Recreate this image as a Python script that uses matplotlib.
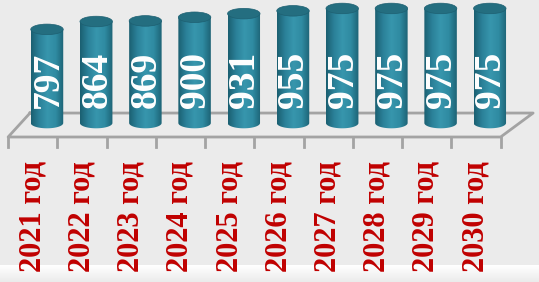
import numpy as np
import matplotlib.pyplot as plt
from matplotlib.patches import Ellipse, PathPatch
from matplotlib.path import Path
from matplotlib.colors import LinearSegmentedColormap

years = ['2021 год', '2022 год', '2023 год', '2024 год', '2025 год',
         '2026 год', '2027 год', '2028 год', '2029 год', '2030 год']
values = [797, 864, 869, 900, 931, 955, 975, 975, 975, 975]

bg = '#ebebeb'
fig = plt.figure(figsize=(5.39, 2.82), dpi=100, facecolor=bg)
ax = fig.add_axes([0, 0, 1, 1])
ax.set_facecolor(bg)
ax.axis('off')

# floor (perspective parallelogram) + ticks
floor_c = '#a3a3a3'
fx0, fx1 = -0.79, 9.22     # front left / right
bx0, bx1 = -0.345, 9.88    # back left / right
yf, yb = -119, 85
ax.plot([bx0, bx1, fx1, fx0, bx0], [yb, yb, yf, yf, yb], color=floor_c, lw=2, zorder=1)
for t in np.linspace(fx0, fx1, len(values) + 1):
    ax.plot([t, t], [yf, -204], color=floor_c, lw=2, zorder=1)

# cylinders: gradient body clipped to rect + bottom half ellipse, flat top ellipse
cmap = LinearSegmentedColormap.from_list('cyl', ['#1b5f70', '#2b8199', '#3796ad', '#2f8ba2', '#1d6375'])
grad = np.linspace(0, 1, 256).reshape(1, -1)
w = 0.66
eh = 90
for i, v in enumerate(values):
    x0, x1 = i - w / 2, i + w / 2
    t = np.linspace(np.pi, 2 * np.pi, 40)
    bot = np.column_stack([i + w / 2 * np.cos(t), eh / 2 * np.sin(t)])
    verts = np.vstack([[[x0, v]], bot, [[x1, v]], [[x0, v]]])
    clip = PathPatch(Path(verts), fc='none', ec='none')
    ax.add_patch(clip)
    im = ax.imshow(grad, cmap=cmap, aspect='auto', extent=[x0, x1, -eh, v], zorder=2)
    im.set_clip_path(clip)
    ax.add_patch(Ellipse((i, v), w, eh, fc='#246e80', ec='#1e6072', lw=0.5, zorder=3))
    ax.text(i + 0.02, 370, str(v), rotation=90, ha='center', va='center', color='white',
            fontsize=27, fontweight='bold', family='Liberation Serif', zorder=4)

for i, lab in enumerate(years):
    ax.text(i - 0.29, -325, lab, rotation=90, ha='center', va='top', color='#c00000',
            fontsize=22, fontweight='bold', family='Liberation Serif', zorder=4)

# white fade at the bottom
fade = LinearSegmentedColormap.from_list('fade', ['#ffffff', bg])
ax.imshow(np.linspace(0, 1, 64).reshape(-1, 1), cmap=fade, aspect='auto',
          extent=[0, 1, 0, 17 / 282], transform=ax.transAxes, zorder=0)
ax.set_xlim(-0.955, 10.0)
ax.set_ylim(-1353, 1047)

fig.savefig('out.png', dpi=100, facecolor=bg)
